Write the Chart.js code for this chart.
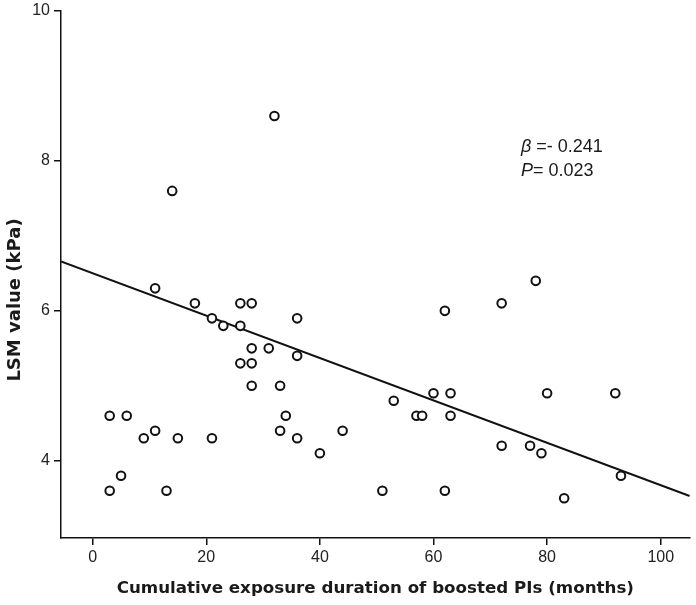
<!DOCTYPE html>
<html>
<head>
<meta charset="utf-8">
<script src="https://cdn.jsdelivr.net/npm/chart.js@4.4.0/dist/chart.umd.min.js"></script>
<style>
  html, body { margin: 0; padding: 0; background: #fff; }
  #wrap { width: 696px; height: 605px; }
</style>
</head>
<body>
<div id="wrap"><canvas id="chart" width="696" height="605"></canvas></div>
<script>
// exposure duration (months) and LSM value (kPa) per patient
const exposureMonths = [3, 3, 5, 6, 9, 11, 11, 13, 14, 15, 18, 21, 21, 23, 26, 26, 26, 28, 28, 28, 28, 31, 32, 33, 33, 34, 36, 36, 36, 40, 44, 51, 53, 57, 58, 60, 62, 62, 63, 63, 72, 72, 77, 78, 79, 80, 83, 92, 93];
const lsmValues = [4.6, 3.6, 3.8, 4.6, 4.3, 4.4, 6.3, 3.6, 7.6, 4.3, 6.1, 5.9, 4.3, 5.8, 6.1, 5.8, 5.3, 6.1, 5.5, 5.3, 5.0, 5.5, 8.6, 5.0, 4.4, 4.6, 5.9, 5.4, 4.3, 4.1, 4.4, 3.6, 4.8, 4.6, 4.6, 4.9, 6.0, 3.6, 4.9, 4.6, 6.1, 4.2, 4.2, 6.4, 4.1, 4.9, 3.5, 4.9, 3.8];

// fitted regression line, read at both ends of the x axis
const fitX = [-5.57, 105.1];
const fitY = [6.66, 3.53];

const xTicks = [0, 20, 40, 60, 80, 100];
const yTicks = [4, 6, 8, 10];

const statLines = [['\u03B2', ' =- 0.241'], ['P', '= 0.023']];

const points = exposureMonths.map((x, i) => ({ x: x, y: lsmValues[i] }));
const fitLine = fitX.map((x, i) => ({ x: x, y: fitY[i] }));

const tickFont = { family: "'Liberation Sans', Arial, sans-serif", size: 16 };

// y title and the beta / P note
const textPlugin = {
    id: 'texts',
    afterDraw(chart) {
        const ctx = chart.ctx;
        ctx.save();
        ctx.fillStyle = '#1a1a1a';
        ctx.font = "bold 18px 'DejaVu Sans', sans-serif";
        ctx.textAlign = 'center';
        ctx.textBaseline = 'middle';
        ctx.translate(15, 300);
        ctx.rotate(-Math.PI / 2);
        ctx.fillText('LSM value (kPa)', 0, 0);
        ctx.restore();

        ctx.save();
        ctx.fillStyle = '#1a1a1a';
        ctx.textBaseline = 'middle';
        ctx.textAlign = 'left';
        statLines.forEach((parts, i) => {
            const y = 147 + i * 24;
            ctx.font = "italic 18px 'Liberation Sans', Arial, sans-serif";
            ctx.fillText(parts[0], 521, y);
            const w = ctx.measureText(parts[0]).width;
            ctx.font = "18px 'Liberation Sans', Arial, sans-serif";
            ctx.fillText(parts[1], 521 + w, y);
        });
        ctx.restore();
    }
};

new Chart(document.getElementById('chart'), {
    type: 'scatter',
    data: {
        datasets: [{
            type: 'line',
            data: fitLine,
            borderColor: '#111',
            borderWidth: 2,
            pointRadius: 0,
            fill: false,
            order: 2
        }, {
            data: points,
            pointStyle: 'circle',
            pointRadius: 4.3,
            borderWidth: 2,
            borderColor: '#111',
            backgroundColor: '#fff',
            order: 1
        }]
    },
    options: {
        responsive: false,
        animation: false,
        layout: { padding: { top: 11, right: 5, left: 0, bottom: 0 } },
        plugins: { legend: { display: false }, tooltip: { enabled: false } },
        scales: {
            x: {
                type: 'linear',
                min: -5.57,
                max: 105.1,
                afterBuildTicks: scale => { scale.ticks = xTicks.map(v => ({ value: v })); },
                afterFit: scale => { scale.height = 67; scale.paddingLeft = 0; scale.paddingRight = 0; },
                ticks: { font: tickFont, color: '#222', padding: 3, maxRotation: 0 },
                grid: { drawOnChartArea: false, drawTicks: true, tickLength: 7, color: '#111', lineWidth: 1.5 },
                border: { display: true, color: '#111', width: 1.5 },
                title: {
                    display: true,
                    text: 'Cumulative exposure duration of boosted PIs (months)',
                    font: { family: "'DejaVu Sans', sans-serif", size: 16.7, weight: 'bold' },
                    color: '#1a1a1a',
                    padding: { top: 6, bottom: 6 }
                }
            },
            y: {
                min: 2.97,
                max: 10,
                afterBuildTicks: scale => { scale.ticks = yTicks.map(v => ({ value: v })); },
                afterFit: scale => { scale.width = 61; scale.paddingTop = 0; scale.paddingBottom = 0; },
                ticks: { font: tickFont, color: '#222', padding: 4 },
                grid: { drawOnChartArea: false, drawTicks: true, tickLength: 7, color: '#111', lineWidth: 1.5 },
                border: { display: true, color: '#111', width: 1.5 }
            }
        }
    },
    plugins: [textPlugin]
});
</script>
</body>
</html>
